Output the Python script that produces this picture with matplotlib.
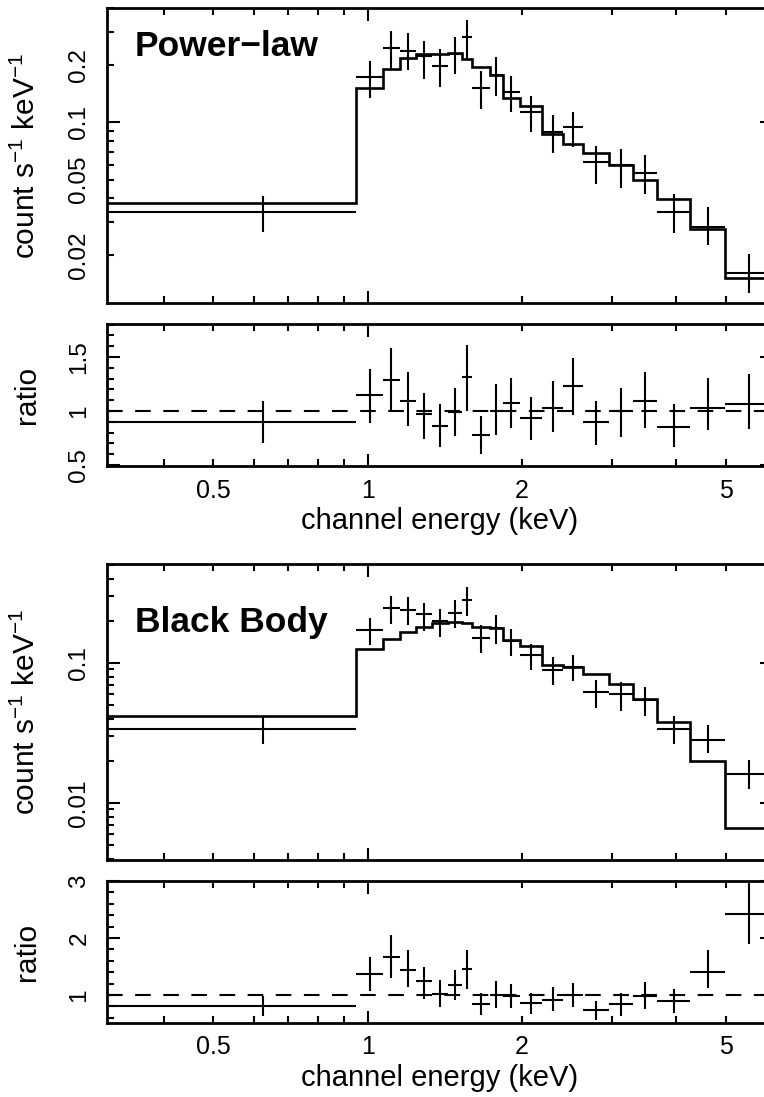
import numpy as np
import matplotlib
matplotlib.use("Agg")
import matplotlib.pyplot as plt
from matplotlib.ticker import FixedLocator, FuncFormatter

plt.rcParams['font.family'] = ['Liberation Sans', 'DejaVu Sans']
plt.rcParams['mathtext.fontset'] = 'custom'
plt.rcParams['mathtext.rm'] = 'Liberation Sans'
plt.rcParams['mathtext.default'] = 'regular'

# ---------------- data ----------------
# channel bin edges (keV)
bin_edges = [0.30, 0.95, 1.07, 1.155, 1.245, 1.335, 1.435, 1.525, 1.595, 1.73,
             1.835, 1.98, 2.19, 2.40, 2.63, 2.955, 3.29, 3.67, 4.255, 4.98, 6.12]
# observed count rate (count s^-1 keV^-1) and error bar ends
data_flux = [0.0338, 0.173, 0.246, 0.2375, 0.223, 0.198, 0.229, 0.282, 0.151, 0.177,
             0.144, 0.114, 0.0885, 0.094, 0.0622, 0.060, 0.0544, 0.0338, 0.0282, 0.0161]
data_low = [0.0265, 0.134, 0.191, 0.188, 0.169, 0.153, 0.179, 0.215, 0.117, 0.137,
            0.113, 0.0885, 0.0694, 0.0738, 0.0476, 0.0453, 0.042, 0.0262, 0.0226, 0.0126]
data_high = [0.0411, 0.210, 0.303, 0.296, 0.268, 0.243, 0.282, 0.346, 0.186, 0.221,
             0.175, 0.137, 0.110, 0.114, 0.0755, 0.0728, 0.0677, 0.042, 0.0359, 0.0203]
# folded models
model_powerlaw = [0.0377, 0.151, 0.191, 0.218, 0.229, 0.229, 0.232, 0.215, 0.195, 0.177,
                  0.134, 0.1215, 0.0864, 0.0765, 0.0694, 0.0599, 0.0499, 0.0396, 0.0275, 0.0151]
model_blackbody = [0.0418, 0.126, 0.148, 0.166, 0.180, 0.193, 0.196, 0.193, 0.180, 0.178,
                   0.146, 0.132, 0.0967, 0.0936, 0.0835, 0.0708, 0.0553, 0.0379, 0.0200, 0.00663]

panel_titles = ["Power\u2212law", "Black Body"]
xtick_major = [1.0]
xtick_minor = [0.4, 0.5, 0.6, 0.7, 0.8, 0.9, 2, 3, 4, 5, 6]
xtick_labelled = {0.5: "0.5", 1.0: "1", 2: "2", 5: "5"}
ylabel_spec = "count s$^{\u22121}$ keV$^{\u22121}$"
xlabel = "channel energy (keV)"

# ---------------- figure ----------------
W, H = 764, 1097
fig = plt.figure(figsize=(W / 100, H / 100), dpi=100)

def rect(top, bottom, left=107, right=772):
    return [left / W, 1 - bottom / H, (right - left) / W, (bottom - top) / H]

ax_s1 = fig.add_axes(rect(8, 303))
ax_r1 = fig.add_axes(rect(324, 466))
ax_s2 = fig.add_axes(rect(564, 860))
ax_r2 = fig.add_axes(rect(881, 1023))

edges = np.array(bin_edges)
xc = 0.5 * (edges[:-1] + edges[1:])
xerr = 0.5 * (edges[1:] - edges[:-1])
d = np.array(data_flux)
dl = np.array(data_low)
dh = np.array(data_high)

LW_FRAME = 2.0
LW_ERR = 1.5
LW_MODEL = 1.9
TICK_FS = 17.5
XTICK_FS = 18
LABEL_FS = 21.5
XLABEL_FS = 21


def style_axes(ax):
    for s in ax.spines.values():
        s.set_linewidth(LW_FRAME)
    ax.tick_params(which='both', direction='in', top=True, right=True,
                   width=1.5, color='k')
    ax.tick_params(which='major', length=9)
    ax.tick_params(which='minor', length=5)
    ax.set_xscale('log')
    ax.set_xlim(0.31, 6.15)
    ax.xaxis.set_major_locator(FixedLocator(xtick_major))
    ax.xaxis.set_minor_locator(FixedLocator(xtick_minor))


def xfmt(v, pos):
    for k, s in xtick_labelled.items():
        if abs(v - k) < 1e-6:
            return s
    return ""


def ylog_fmt(labels):
    def f(v, pos):
        for k in labels:
            if abs(v - k) / k < 1e-6:
                return ("%g" % k)
        return ""
    return FuncFormatter(f)


models = [model_powerlaw, model_blackbody]
spec_axes = [ax_s1, ax_s2]
ratio_axes = [ax_r1, ax_r2]

for i in range(2):
    ax = spec_axes[i]
    m = np.array(models[i])
    style_axes(ax)
    ax.set_yscale('log')
    ax.errorbar(xc, d, xerr=xerr, yerr=[d - dl, dh - d], fmt='none',
                ecolor='k', elinewidth=LW_ERR, capsize=0)
    ax.stairs(m, edges, baseline=None, color='k', linewidth=LW_MODEL)
    ax.tick_params(axis='x', labelbottom=False)
    ax.set_ylabel(ylabel_spec, fontsize=LABEL_FS)
    ax.text(0.042, 0.837 if i == 0 else 0.77, panel_titles[i], transform=ax.transAxes,
            fontsize=25.5, fontweight='bold', ha='left', va='baseline')

    r = ratio_axes[i]
    style_axes(r)
    ratio = d / m
    r.errorbar(xc, ratio, xerr=xerr, yerr=[(d - dl) / m, (dh - d) / m], fmt='none',
               ecolor='k', elinewidth=LW_ERR, capsize=0)
    r.axhline(1.0, color='k', linewidth=1.5, linestyle=(0, (7.5, 6)))
    r.xaxis.set_major_formatter(FuncFormatter(xfmt))
    r.xaxis.set_minor_formatter(FuncFormatter(xfmt))
    r.tick_params(axis='x', which='both', labelsize=XTICK_FS, pad=9)
    r.set_xlabel(xlabel, fontsize=XLABEL_FS, labelpad=3)
    r.set_ylabel("ratio", fontsize=LABEL_FS)

# y axes of spectra
ax_s1.set_ylim(0.0112, 0.40)
ax_s1.yaxis.set_major_locator(FixedLocator([0.1]))
ax_s1.yaxis.set_minor_locator(FixedLocator([0.02, 0.03, 0.04, 0.05, 0.06, 0.07, 0.08, 0.09,
                                            0.2, 0.3, 0.4]))
ax_s1.yaxis.set_major_formatter(ylog_fmt([0.1]))
ax_s1.yaxis.set_minor_formatter(ylog_fmt([0.02, 0.05, 0.2]))

ax_s2.set_ylim(0.00392, 0.509)
ax_s2.yaxis.set_major_locator(FixedLocator([0.01, 0.1]))
ax_s2.yaxis.set_minor_locator(FixedLocator([0.004, 0.005, 0.006, 0.007, 0.008, 0.009,
                                            0.02, 0.03, 0.04, 0.05, 0.06, 0.07, 0.08, 0.09,
                                            0.2, 0.3, 0.4, 0.5]))
ax_s2.yaxis.set_major_formatter(ylog_fmt([0.01, 0.1]))
ax_s2.yaxis.set_minor_formatter(FuncFormatter(lambda v, p: ""))

ax_r1.set_ylim(0.49, 1.805)
ax_r1.yaxis.set_major_locator(FixedLocator([0.5, 1.0, 1.5]))
ax_r1.yaxis.set_minor_locator(FixedLocator(list(np.round(np.arange(0.5, 1.81, 0.1), 2))))
ax_r1.yaxis.set_major_formatter(FuncFormatter(lambda v, p: "%g" % v))

ax_r2.set_ylim(0.51, 3.0)
ax_r2.yaxis.set_major_locator(FixedLocator([1, 2, 3]))
ax_r2.yaxis.set_minor_locator(FixedLocator(list(np.round(np.arange(0.6, 3.01, 0.2), 2))))
ax_r2.yaxis.set_major_formatter(FuncFormatter(lambda v, p: "%g" % v))

for ax in spec_axes + ratio_axes:
    ax.tick_params(axis='y', which='both', labelsize=TICK_FS, pad=12, labelrotation=90)
    for t in ax.get_yticklabels(which='both'):
        t.set_va('center')
        t.set_ha('right')
    ax.yaxis.set_label_coords(-(107 - 41) / (772 - 107), 0.5)

fig.savefig("out.png", dpi=100)
